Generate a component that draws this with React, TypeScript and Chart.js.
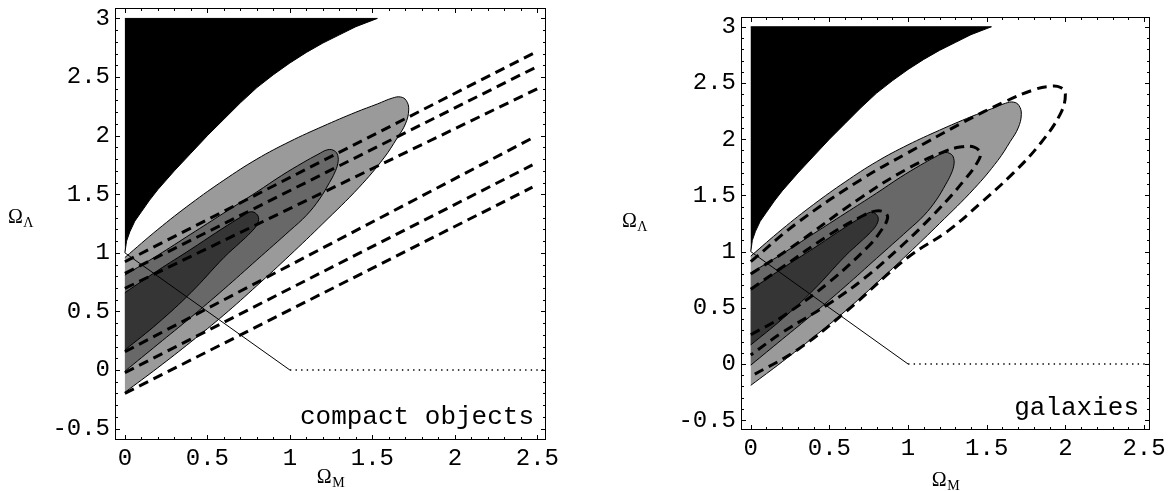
import React, { useEffect, useRef } from 'react';
import { Chart, registerables } from 'chart.js';

Chart.register(...registerables);

type P = [number, number];

// ---- axis ticks ----
const xTickValues = [0, 0.5, 1, 1.5, 2, 2.5];
const xTickLabels = ['0', '0.5', '1', '1.5', '2', '2.5'];
const yTickValues = [-0.5, 0, 0.5, 1, 1.5, 2, 2.5, 3];
const yTickLabels = ['-0.5', '0', '0.5', '1', '1.5', '2', '2.5', '3'];

// ---- no-big-bang region (black) ----
const noBigBang: P[] = [
  [0, 3.0], [1.53, 3.0], [1.4, 2.93], [1.3, 2.86], [1.2, 2.79], [1.1, 2.71], [1.0, 2.62],
  [0.9, 2.52], [0.8, 2.41], [0.7, 2.28], [0.6, 2.14], [0.5, 2.0], [0.4, 1.85], [0.3, 1.7],
  [0.2, 1.54], [0.15, 1.45], [0.1, 1.35], [0.06, 1.27], [0.03, 1.18], [0.01, 1.1], [0, 1.0],
];

// ---- filled confidence contours (same in both panels) ----
const outerContour: P[] = [
  [0, 0.96], [0.2, 1.2], [0.4, 1.42], [0.6, 1.62], [0.8, 1.8], [1.0, 1.95], [1.2, 2.08],
  [1.4, 2.2], [1.53, 2.27], [1.62, 2.32], [1.67, 2.33], [1.705, 2.3], [1.72, 2.22],
  [1.7, 2.1], [1.65, 1.98], [1.57, 1.81], [1.42, 1.56], [1.2, 1.25], [1.0, 0.98],
  [0.8, 0.72], [0.6, 0.47], [0.4, 0.24], [0.2, 0.02], [0, -0.19],
];
const middleContour: P[] = [
  [0, 0.81], [0.2, 0.98], [0.4, 1.16], [0.6, 1.34], [0.8, 1.52], [0.95, 1.66], [1.08, 1.77],
  [1.17, 1.84], [1.23, 1.88], [1.27, 1.87], [1.29, 1.83], [1.29, 1.76], [1.27, 1.68],
  [1.24, 1.6], [1.18, 1.46], [1.1, 1.32], [1.0, 1.19], [0.8, 0.94], [0.6, 0.69], [0.4, 0.45],
  [0.2, 0.22], [0, -0.01],
];
const innerContour: P[] = [
  [0, 0.66], [0.2, 0.85], [0.4, 1.03], [0.55, 1.17], [0.65, 1.26], [0.72, 1.32], [0.76, 1.35],
  [0.79, 1.34], [0.81, 1.3], [0.8, 1.24], [0.76, 1.17], [0.7, 1.09], [0.6, 0.96], [0.4, 0.66],
  [0.2, 0.4], [0, 0.17],
];

// ---- compact objects: dashed bands (start at x=0, end at x=endX) ----
const compactStartY = [0.924, 0.825, 0.697, 0.156, -0.023, -0.199];
const compactEndX = [2.5, 2.5, 2.5, 2.47, 2.47, 2.47];
const compactEndY = [2.72, 2.59, 2.4, 1.98, 1.75, 1.56];

// ---- galaxies: dashed contours ----
const galOuter: P[] = [
  [0, 0.91], [0.3, 1.26], [0.7, 1.64], [1.0, 1.88], [1.35, 2.15], [1.61, 2.33], [1.8, 2.44],
  [1.9, 2.47], [1.97, 2.46], [2.0, 2.4], [1.97, 2.23], [1.84, 1.96], [1.67, 1.7], [1.46, 1.43],
  [1.25, 1.18], [1.0, 0.95], [0.6, 0.46], [0.3, 0.13], [0, -0.11],
];
const galMiddle: P[] = [
  [0, 0.8], [0.25, 1.03], [0.7, 1.48], [1.0, 1.74], [1.23, 1.89], [1.33, 1.93], [1.42, 1.93],
  [1.46, 1.87], [1.43, 1.77], [1.36, 1.64], [1.25, 1.46], [1.1, 1.24], [0.95, 1.04],
  [0.72, 0.76], [0.49, 0.53], [0.2, 0.28], [0, 0.08],
];
const galInner: P[] = [
  [0, 0.665], [0.2, 0.86], [0.49, 1.14], [0.7, 1.31], [0.79, 1.36], [0.85, 1.35], [0.87, 1.3],
  [0.83, 1.19], [0.75, 1.05], [0.5, 0.73], [0.2, 0.42], [0, 0.26],
];

// ---- reference lines ----
const flatLine: P[] = [[0, 1], [1, 0]];
const zeroLine: P[] = [[1, 0], [2.6, 0]];

const pts = (a: P[]) => a.map(([x, y]) => ({ x, y }));

const DASH = [10, 6];
const DASH_W = 3;
const MONO = 'Liberation Mono, DejaVu Sans Mono, monospace';
const SERIF = 'Liberation Serif, DejaVu Serif, serif';

Chart.defaults.font.family = MONO;

function baseDatasets(): any[] {
  return [
    { data: pts(noBigBang), backgroundColor: '#000', borderColor: '#000', borderWidth: 1, fill: 'shape', tension: 0, order: 20 },
    { data: pts(outerContour), backgroundColor: '#9a9a9a', borderColor: '#000', borderWidth: 1, fill: 'shape', tension: 0.4, order: 19 },
    { data: pts(middleContour), backgroundColor: '#686868', borderColor: '#000', borderWidth: 1, fill: 'shape', tension: 0.4, order: 18 },
    { data: pts(innerContour), backgroundColor: '#353535', borderColor: '#000', borderWidth: 1, fill: 'shape', tension: 0.4, order: 17 },
    { data: pts(flatLine), borderColor: '#000', borderWidth: 1, fill: false, tension: 0, order: 2 },
    { data: pts(zeroLine), borderColor: '#000', borderWidth: 1.4, borderDash: [1.4, 4.2], fill: false, tension: 0, order: 1 },
  ];
}

function compactDatasets(): any[] {
  return compactStartY.map((y0, i) => ({
    data: pts([[0, y0], [compactEndX[i], compactEndY[i]]]),
    borderColor: '#000', borderWidth: DASH_W, borderDash: DASH, fill: false, tension: 0, order: 5,
  }));
}

function galaxyDatasets(): any[] {
  return [galOuter, galMiddle, galInner].map((c) => ({
    data: pts(c), borderColor: '#000', borderWidth: DASH_W, borderDash: DASH, fill: false, tension: 0.4, order: 5,
  }));
}

const framePlugin = {
  id: 'frame',
  afterDatasetsDraw(chart: any) {
    const { ctx, chartArea: a, scales } = chart;
    const xs = scales.x, ys = scales.y;
    ctx.save();
    ctx.strokeStyle = '#000';
    ctx.lineWidth = 1;
    ctx.strokeRect(a.left + 0.5, a.top + 0.5, a.right - a.left - 1, a.bottom - a.top - 1);
    ctx.beginPath();
    for (let k = 0; k <= 25; k++) {
      const v = k / 10;
      const len = k % 5 === 0 ? 5 : 3;
      const px = Math.round(xs.getPixelForValue(v)) + 0.5;
      ctx.moveTo(px, a.bottom); ctx.lineTo(px, a.bottom - len);
      ctx.moveTo(px, a.top); ctx.lineTo(px, a.top + len);
    }
    for (let k = -5; k <= 30; k++) {
      const v = k / 10;
      const len = k % 5 === 0 ? 5 : 3;
      const py = Math.round(ys.getPixelForValue(v)) + 0.5;
      ctx.moveTo(a.left, py); ctx.lineTo(a.left + len, py);
      ctx.moveTo(a.right, py); ctx.lineTo(a.right - len, py);
    }
    ctx.stroke();
    ctx.restore();
  },
};

function drawSymbol(ctx: CanvasRenderingContext2D, x: number, y: number, main: string, sub: string, center: boolean) {
  const big = '20px ' + SERIF;
  const small = '14px ' + SERIF;
  ctx.font = big;
  const w1 = ctx.measureText(main).width;
  ctx.font = small;
  const w2 = ctx.measureText(sub).width;
  const x0 = center ? x - (w1 + w2) / 2 : x;
  ctx.textAlign = 'left';
  ctx.textBaseline = 'alphabetic';
  ctx.fillStyle = '#000';
  ctx.font = big;
  ctx.fillText(main, x0, y);
  ctx.font = small;
  ctx.fillText(sub, x0 + w1 + 0.5, y + 4);
}

const labelPlugin = {
  id: 'panelLabels',
  afterDraw(chart: any, _args: any, opts: any) {
    const { ctx, chartArea: a } = chart;
    ctx.save();
    ctx.font = '26px ' + MONO;
    ctx.fillStyle = '#000';
    ctx.textAlign = 'right';
    ctx.textBaseline = 'middle';
    ctx.fillText(opts.caption, a.right - opts.capRight, a.bottom - opts.capUp);
    drawSymbol(ctx, opts.yTitleX, opts.yTitleY, 'Ω', 'Λ', false);
    drawSymbol(ctx, (a.left + a.right) / 2, opts.xTitleY, 'Ω', 'M', true);
    ctx.restore();
  },
};

interface PanelProps {
  left: number;
  width: number;
  datasets: any[];
  xMin: number; xMax: number; yMin: number; yMax: number;
  padTop: number; padRight: number;
  yAxisWidth: number; xAxisHeight: number;
  caption: string; capRight: number; capUp: number;
  yTitleX: number; yTitleY: number; xTitleY: number;
}

function Panel(p: PanelProps) {
  const ref = useRef<HTMLCanvasElement | null>(null);
  useEffect(() => {
    if (!ref.current) return;
    const tickFont = { family: MONO, size: 24 };
    const chart = new Chart(ref.current, {
      type: 'line',
      data: { datasets: p.datasets },
      plugins: [framePlugin, labelPlugin],
      options: {
        responsive: false,
        animation: false,
        events: [],
        layout: { padding: { left: 0, top: p.padTop, right: p.padRight, bottom: 0 } },
        elements: { point: { radius: 0, hoverRadius: 0 } },
        plugins: {
          legend: { display: false },
          tooltip: { enabled: false },
          panelLabels: {
            caption: p.caption, capRight: p.capRight, capUp: p.capUp,
            yTitleX: p.yTitleX, yTitleY: p.yTitleY, xTitleY: p.xTitleY,
          },
        } as any,
        scales: {
          x: {
            type: 'linear',
            min: p.xMin,
            max: p.xMax,
            grid: { display: false, drawTicks: false },
            border: { display: false },
            afterBuildTicks: (s: any) => { s.ticks = xTickValues.map((v) => ({ value: v })); },
            afterFit: (s: any) => { s.height = p.xAxisHeight; s.paddingLeft = 0; s.paddingRight = 0; },
            ticks: {
              autoSkip: false, maxRotation: 0, padding: 4, color: '#000', font: tickFont,
              callback: (v: any) => xTickLabels[xTickValues.indexOf(Number(v))] ?? '',
            },
          },
          y: {
            type: 'linear',
            min: p.yMin,
            max: p.yMax,
            grid: { display: false, drawTicks: false },
            border: { display: false },
            afterBuildTicks: (s: any) => { s.ticks = yTickValues.map((v) => ({ value: v })); },
            afterFit: (s: any) => { s.width = p.yAxisWidth; s.paddingTop = 0; s.paddingBottom = 0; },
            ticks: {
              autoSkip: false, padding: 5, color: '#000', font: tickFont,
              callback: (v: any) => yTickLabels[yTickValues.indexOf(Number(v))] ?? '',
            },
          },
        },
      } as any,
    });
    return () => chart.destroy();
  }, []);
  return (
    <canvas
      ref={ref}
      width={p.width}
      height={491}
      style={{ position: 'absolute', left: p.left, top: 0, width: p.width, height: 491 }}
    />
  );
}

export default function App() {
  return (
    <div style={{ position: 'fixed', left: 0, top: 0, width: 1175, height: 491, background: '#fff', overflow: 'hidden' }}>
      <Panel
        left={0} width={590}
        datasets={[...compactDatasets(), ...baseDatasets()]}
        xMin={-0.06} xMax={2.552} yMin={-0.597} yMax={3.089}
        padTop={8} padRight={44} yAxisWidth={115} xAxisHeight={51}
        caption="compact objects" capRight={12} capUp={23}
        yTitleX={8} yTitleY={223} xTitleY={483}
      />
      <Panel
        left={590} width={585}
        datasets={[...galaxyDatasets(), ...baseDatasets()]}
        xMin={-0.062} xMax={2.538} yMin={-0.587} yMax={3.087}
        padTop={17} padRight={25} yAxisWidth={151} xAxisHeight={61}
        caption="galaxies" capRight={11} capUp={22}
        yTitleX={32} yTitleY={227} xTitleY={486}
      />
    </div>
  );
}
